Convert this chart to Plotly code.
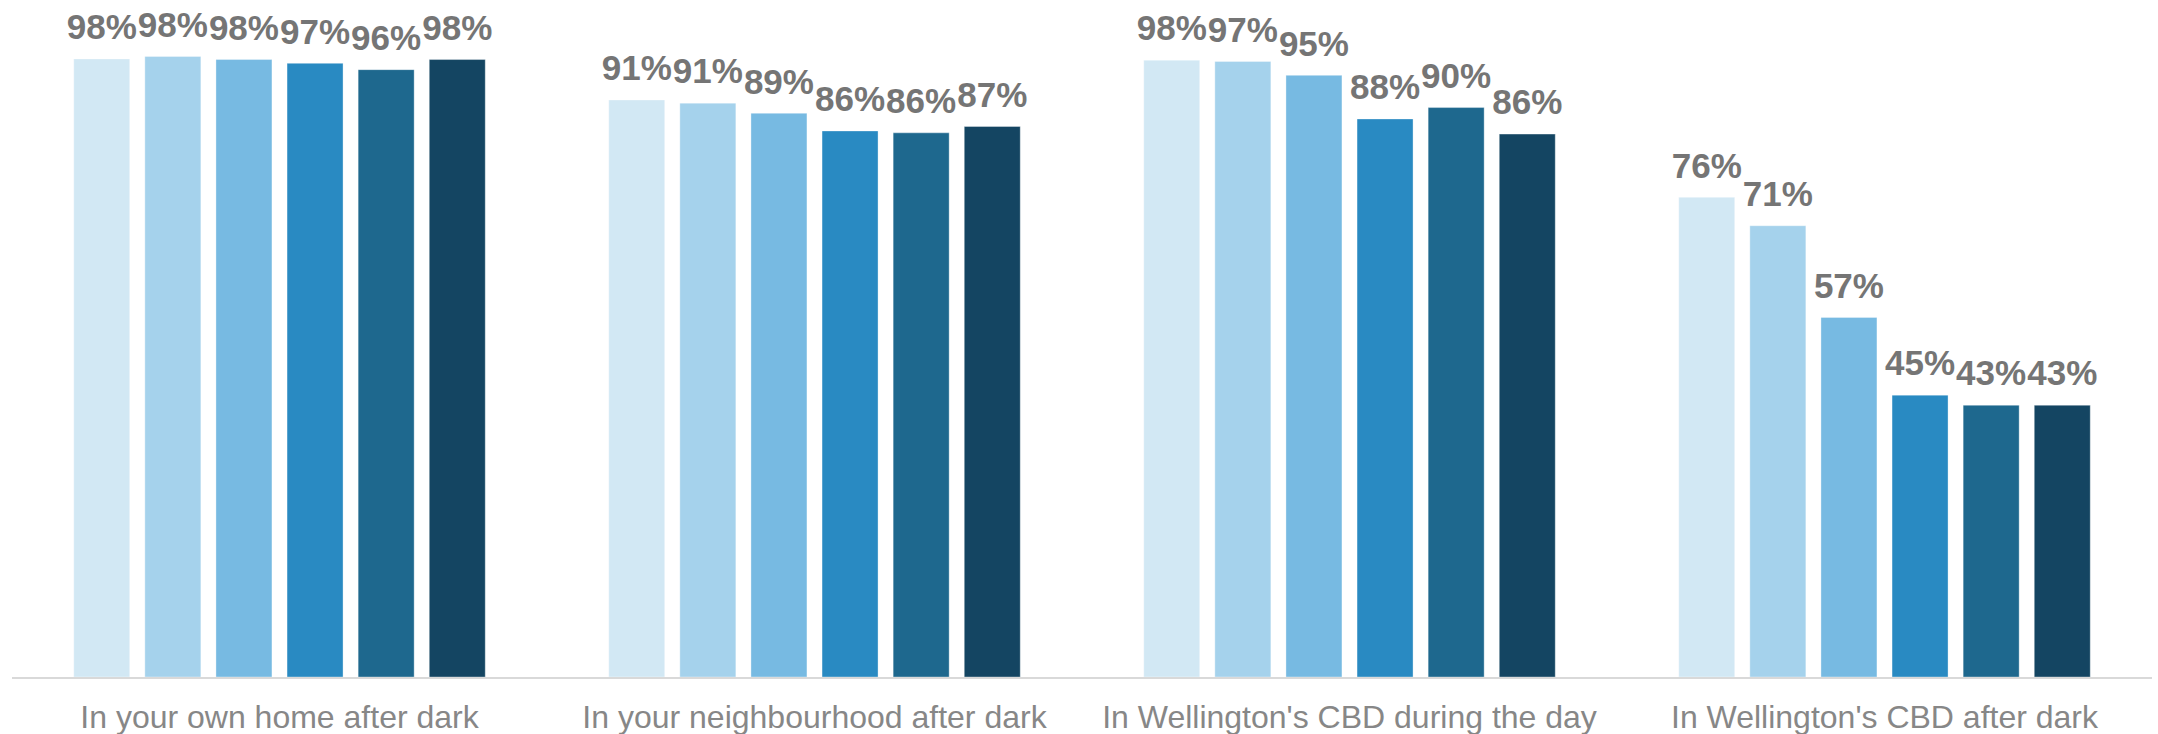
import plotly.graph_objects as go

# ---------------------------------------------------------------------------
# Data : share feeling safe, by place, six survey waves (lightest = oldest)
# ---------------------------------------------------------------------------
categories = [
    "In your own home after dark",
    "In your neighbourhood after dark",
    "In Wellington's CBD during the day",
    "In Wellington's CBD after dark",
]
series_names = ["Wave 1", "Wave 2", "Wave 3", "Wave 4", "Wave 5", "Wave 6"]

wave_1 = [0.978, 0.913, 0.976, 0.759]
wave_2 = [0.982, 0.908, 0.974, 0.714]
wave_3 = [0.977, 0.892, 0.952, 0.569]
wave_4 = [0.971, 0.864, 0.883, 0.446]
wave_5 = [0.961, 0.861, 0.901, 0.430]
wave_6 = [0.977, 0.871, 0.859, 0.430]

# ---------------------------------------------------------------------------
# Style
# ---------------------------------------------------------------------------
COULEURS = ["#D2E8F4", "#A5D2EC", "#77BAE2", "#298AC2", "#1E688E", "#144562"]
FONT = "Liberation Sans, Arial, sans-serif"
GRIS_LABEL = "#757575"
GRIS_AXE = "#878787"
BARGAP = 0.2026

fig = go.Figure()
for name, vals, colour in zip(series_names,
                              [wave_1, wave_2, wave_3, wave_4, wave_5, wave_6],
                              COULEURS):
    fig.add_bar(
        x=categories, y=vals, name=name, offsetgroup=name,
        marker=dict(color=colour, line=dict(width=1, color="rgba(255,255,255,0.35)")),
        hovertemplate="%{x}<br>" + name + ": %{y:.0%}<extra></extra>",
    )
    # data labels: invisible markers give the same lift as the Excel labels
    fig.add_scatter(
        x=categories, y=vals, offsetgroup=name, mode="markers+text",
        marker=dict(size=16, opacity=0), texttemplate="%{y:.0%}",
        textposition="top center", cliponaxis=False, showlegend=False,
        hoverinfo="skip",
        textfont=dict(family=FONT, size=35, color=GRIS_LABEL, weight="bold"),
    )

fig.update_layout(
    width=2158, height=734,
    barmode="group", bargap=BARGAP, bargroupgap=0.2125,
    scattermode="group", scattergap=BARGAP,
    showlegend=False,
    paper_bgcolor="white", plot_bgcolor="white",
    margin=dict(l=12, r=6, t=45, b=57, autoexpand=False),
    font=dict(family=FONT),
    xaxis=dict(showline=True, linecolor="#D9D9D9", linewidth=1.5, ticks="",
               range=[-0.5, len(categories) - 0.5], automargin=False,
               showgrid=False, zeroline=False, ticklabelstandoff=11,
               tickfont=dict(family=FONT, size=32, color=GRIS_AXE)),
    yaxis=dict(visible=False, range=[0, 1], showgrid=False, zeroline=False),
)

# page sans marge : la figure occupe exactement la fenêtre
fig.write_html("out.html", config={"displayModeBar": False},
               post_script="document.body.style.margin='0';")
